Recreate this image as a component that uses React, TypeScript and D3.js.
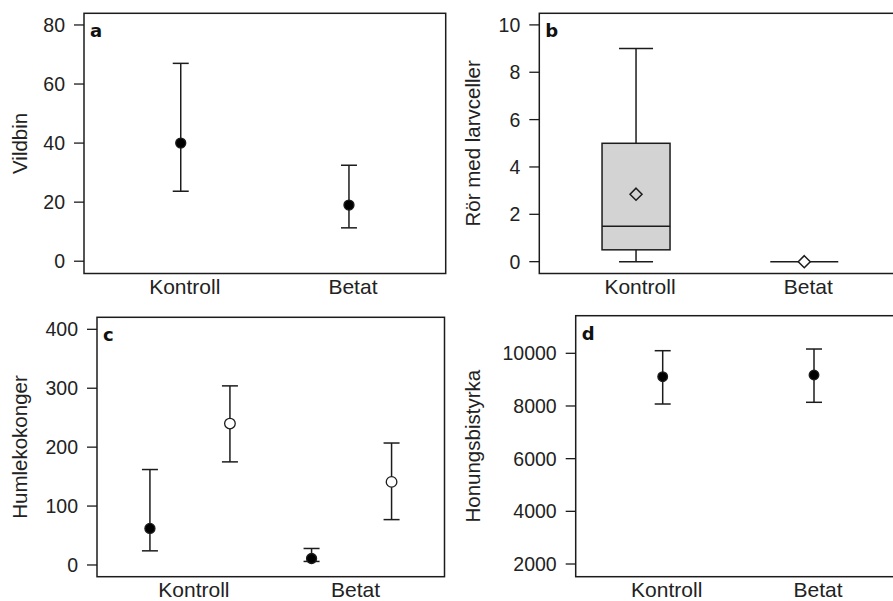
import React from "react";
import * as d3 from "d3";

const categories = ["Kontroll", "Betat"];

// Panel a – Vildbin (mean with interval)
const aMean = [40, 19];
const aLow = [23.7, 11.3];
const aHigh = [67, 32.5];
const aTicks = [0, 20, 40, 60, 80];

// Panel b – Rör med larvceller (box plot)
const bMin = [0, 0];
const bQ1 = [0.5, 0];
const bMedian = [1.5, 0];
const bQ3 = [5, 0];
const bMax = [9, 0];
const bMean = [2.85, 0];
const bTicks = [0, 2, 4, 6, 8, 10];

// Panel c – Humlekokonger (two groups per category)
const cFilledMean = [62, 11];
const cFilledLow = [24, 6];
const cFilledHigh = [162, 28];
const cOpenMean = [240, 141];
const cOpenLow = [175, 77];
const cOpenHigh = [304, 207];
const cTicks = [0, 100, 200, 300, 400];

// Panel d – Honungsbistyrka
const dMean = [9112, 9176];
const dLow = [8075, 8140];
const dHigh = [10099, 10163];
const dTicks = [2000, 4000, 6000, 8000, 10000];

const INK = "#1c1c1c";
const FONT = "'Liberation Sans', Arial, sans-serif";

type PanelProps = {
  letter: string;
  title: string;
  x0: number; x1: number; y0: number; y1: number;
  domain: [number, number];
  ticks: number[];
  titleX: number;
  children: (x: d3.ScalePoint<string>, y: d3.ScaleLinear<number, number>) => React.ReactNode;
};

function Panel({ letter, title, x0, x1, y0, y1, domain, ticks, titleX, children }: PanelProps) {
  const x = d3.scalePoint<string>().domain(categories).range([x0, x1]).padding(0.575);
  const y = d3.scaleLinear().domain(domain).range([y1, y0]);
  return (
    <g>
      <rect x={x0} y={y0} width={x1 - x0} height={y1 - y0} fill="white" stroke={INK} strokeWidth={1.5} />
      {ticks.map((t) => (
        <g key={t}>
          <line x1={x0 - 10} x2={x0} y1={y(t)} y2={y(t)} stroke={INK} strokeWidth={1.3} />
          <text x={x0 - 19} y={y(t)} textAnchor="end" dominantBaseline="central" fontSize={19.5} fontFamily={FONT} fill="#222">
            {t}
          </text>
        </g>
      ))}
      {categories.map((c) => (
        <text key={c} x={(x(c) as number) + 4} y={y1 + 20.5} textAnchor="middle" fontSize={21} fontFamily={FONT} fill="#222">
          {c}
        </text>
      ))}
      <text
        transform={`translate(${titleX},${(y0 + y1) / 2}) rotate(-90)`}
        textAnchor="middle"
        fontSize={20.5}
        fontFamily={FONT}
        fill="#222"
      >
        {title}
      </text>
      <text x={x0 + 6} y={y0 + 24} fontSize={18} fontWeight="bold" fontFamily="'DejaVu Sans', Verdana, sans-serif" fill="#111">
        {letter}
      </text>
      {children(x, y)}
    </g>
  );
}

function ErrorBar({ cx, yLow, yHigh, yMean, filled, cap = 8, r = 5 }: { cx: number; yLow: number; yHigh: number; yMean: number; filled: boolean; cap?: number; r?: number }) {
  return (
    <g>
      <line x1={cx} x2={cx} y1={yLow} y2={yHigh} stroke={INK} strokeWidth={1.5} />
      <line x1={cx - cap} x2={cx + cap} y1={yLow} y2={yLow} stroke={INK} strokeWidth={1.5} />
      <line x1={cx - cap} x2={cx + cap} y1={yHigh} y2={yHigh} stroke={INK} strokeWidth={1.5} />
      <circle cx={cx} cy={yMean} r={r} fill={filled ? "#000" : "white"} stroke={INK} strokeWidth={1.3} />
    </g>
  );
}

export default function App() {
  return (
    <svg width={893} height={601} style={{ position: "absolute", left: 0, top: 0, background: "white" }}>
      <rect width={893} height={601} fill="white" />
      <Panel letter="a" title="Vildbin" x0={84} x1={445.7} y0={13.3} y1={273.5} domain={[-4.16, 83.95]} ticks={aTicks} titleX={26.7}>
        {(x, y) =>
          categories.map((c, i) => (
            <ErrorBar key={c} cx={x(c) as number} yLow={y(aLow[i])} yHigh={y(aHigh[i])} yMean={y(aMean[i])} filled />
          ))
        }
      </Panel>
      <Panel letter="b" title="Rör med larvceller" x0={539.3} x1={901} y0={13.3} y1={273.5} domain={[-0.5, 10.49]} ticks={bTicks} titleX={480}>
        {(x, y) =>
          categories.map((c, i) => {
            const cx = x(c) as number;
            const hw = 34;
            const cw = 17;
            const flat = bQ1[i] === bQ3[i];
            const m = y(bMean[i]);
            return (
              <g key={c}>
                {!flat && (
                  <>
                    <line x1={cx} x2={cx} y1={y(bQ3[i])} y2={y(bMax[i])} stroke={INK} strokeWidth={1.5} />
                    <line x1={cx} x2={cx} y1={y(bQ1[i])} y2={y(bMin[i])} stroke={INK} strokeWidth={1.5} />
                    <line x1={cx - cw} x2={cx + cw} y1={y(bMax[i])} y2={y(bMax[i])} stroke={INK} strokeWidth={1.5} />
                    <line x1={cx - cw} x2={cx + cw} y1={y(bMin[i])} y2={y(bMin[i])} stroke={INK} strokeWidth={1.5} />
                    <rect x={cx - hw} y={y(bQ3[i])} width={hw * 2} height={y(bQ1[i]) - y(bQ3[i])} fill="#d3d3d3" stroke={INK} strokeWidth={1.5} />
                  </>
                )}
                <line x1={cx - hw} x2={cx + hw} y1={y(bMedian[i])} y2={y(bMedian[i])} stroke={INK} strokeWidth={1.5} />
                <path d={`M${cx},${m - 6}L${cx + 6},${m}L${cx},${m + 6}L${cx - 6},${m}Z`} fill={flat ? "white" : "none"} stroke={INK} strokeWidth={1.5} />
              </g>
            );
          })
        }
      </Panel>
      <Panel letter="c" title="Humlekokonger" x0={97} x1={444.5} y0={317.3} y1={576.7} domain={[-19.9, 420.4]} ticks={cTicks} titleX={26.7}>
        {(x, y) =>
          categories.map((c, i) => {
            const cx = x(c) as number;
            return (
              <g key={c}>
                <ErrorBar cx={cx - 40} yLow={y(cFilledLow[i])} yHigh={y(cFilledHigh[i])} yMean={y(cFilledMean[i])} filled />
                <ErrorBar cx={cx + 40} yLow={y(cOpenLow[i])} yHigh={y(cOpenHigh[i])} yMean={y(cOpenMean[i])} filled={false} r={5.3} />
              </g>
            );
          })
        }
      </Panel>
      <Panel letter="d" title="Honungsbistyrka" x0={575.7} x1={901} y0={315.7} y1={576.7} domain={[1518, 11428]} ticks={dTicks} titleX={480}>
        {(x, y) =>
          categories.map((c, i) => (
            <ErrorBar key={c} cx={x(c) as number} yLow={y(dLow[i])} yHigh={y(dHigh[i])} yMean={y(dMean[i])} filled r={4.8} />
          ))
        }
      </Panel>
    </svg>
  );
}
